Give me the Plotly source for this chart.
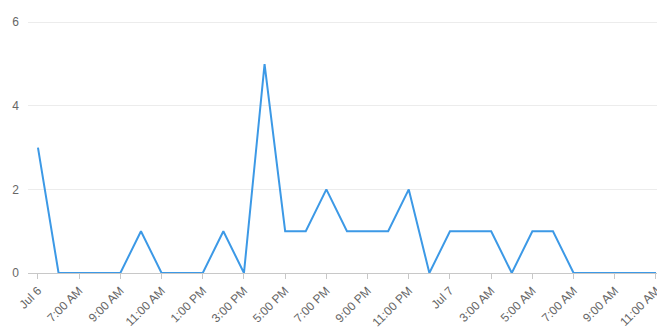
import plotly.graph_objects as go
import pandas as pd

# Hourly timestamps from Jul 6 05:00 to Jul 7 11:00
times = pd.date_range("2023-07-06 05:00", "2023-07-07 11:00", freq="h")
values = [3, 0, 0, 0, 0, 1, 0, 0, 0, 1, 0, 5, 1, 1, 2, 1, 1, 1, 2, 0,
          1, 1, 1, 0, 1, 1, 0, 0, 0, 0, 0]

tick_times = pd.date_range("2023-07-06 05:00", "2023-07-07 11:00", freq="2h")
tick_labels = ["Jul 6", "7:00 AM", "9:00 AM", "11:00 AM", "1:00 PM", "3:00 PM",
               "5:00 PM", "7:00 PM", "9:00 PM", "11:00 PM", "Jul 7", "3:00 AM",
               "5:00 AM", "7:00 AM", "9:00 AM", "11:00 AM"]
y_ticks = [0, 2, 4, 6]

fig = go.Figure()
fig.add_trace(go.Scatter(
    x=times, y=values, mode="lines",
    line=dict(color="#3c99e6", width=2),
    hoverinfo="x+y",
    cliponaxis=False,
))

fig.update_layout(
    width=657, height=333,
    margin=dict(l=28, r=0, t=21, b=60),
    paper_bgcolor="white", plot_bgcolor="white",
    showlegend=False,
    font=dict(family="Liberation Sans, Arial, sans-serif", size=12, color="#666666"),
    xaxis=dict(
        range=["2023-07-06 04:31", "2023-07-07 11:03"],
        tickvals=list(tick_times), ticktext=tick_labels,
        tickangle=-45, ticklabeloverflow="allow", automargin=False,
        ticks="outside", ticklen=5, tickcolor="#c8c8c8", tickwidth=1,
        showgrid=False, zeroline=False,
        showline=True, linecolor="#c8c8c8", linewidth=1,
        tickfont=dict(size=12, color="#666666"),
        fixedrange=True,
    ),
    yaxis=dict(
        range=[0, 6.03], tickvals=y_ticks, automargin=False,
        showgrid=True, gridcolor="#ececec", gridwidth=1,
        zeroline=False, showline=False,
        ticks="", ticklabelstandoff=8,
        tickfont=dict(size=12, color="#666666"),
        fixedrange=True,
    ),
)

fig.write_html("out.html", config={"displayModeBar": False})
